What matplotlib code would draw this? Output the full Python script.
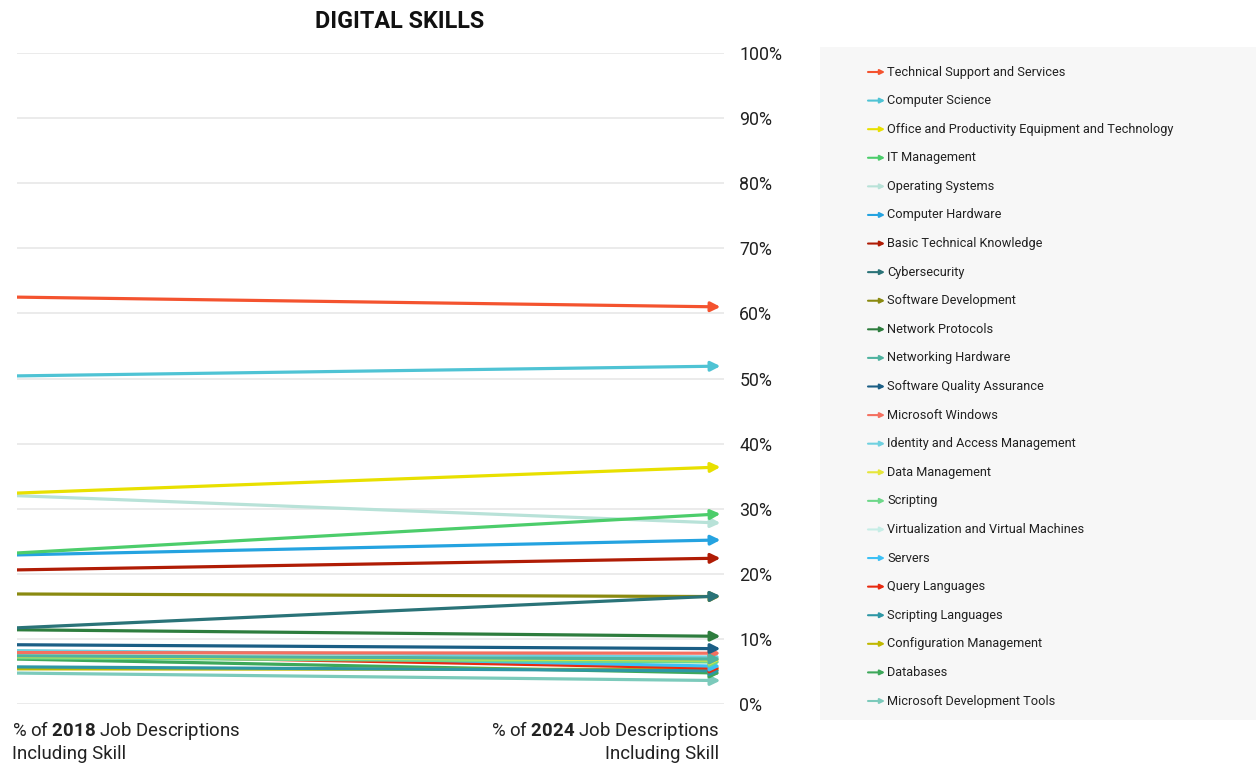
import matplotlib
matplotlib.use('Agg')
import matplotlib.pyplot as plt
from matplotlib.patches import FancyArrowPatch

plt.rcParams['font.family'] = ['Roboto', 'DejaVu Sans']
plt.rcParams['mathtext.fontset'] = 'custom'
plt.rcParams['mathtext.rm'] = 'Roboto'
plt.rcParams['mathtext.bf'] = 'Roboto:bold'

# skills, 2018 share, 2024 share (percent of job descriptions)
skills = [
    'Technical Support and Services', 'Computer Science',
    'Office and Productivity Equipment and Technology', 'IT Management',
    'Operating Systems', 'Computer Hardware', 'Basic Technical Knowledge',
    'Cybersecurity', 'Software Development', 'Network Protocols',
    'Networking Hardware', 'Software Quality Assurance', 'Microsoft Windows',
    'Identity and Access Management', 'Data Management', 'Scripting',
    'Virtualization and Virtual Machines', 'Servers', 'Query Languages',
    'Scripting Languages', 'Configuration Management', 'Databases',
    'Microsoft Development Tools',
]
pct_2018 = [62.5, 50.4, 32.4, 23.2, 32.0, 22.9, 20.6, 11.7, 16.9, 11.4,
            7.4, 9.1, 7.9, 8.2, 7.3, 7.1, 7.6, 8.0, 7.6, 5.7, 5.4, 6.9, 4.75]
pct_2024 = [61.0, 51.9, 36.4, 29.2, 27.8, 25.2, 22.4, 16.6, 16.5, 10.4,
            6.9, 8.5, 7.8, 7.2, 6.75, 6.45, 7.0, 5.8, 5.5, 5.1, 5.3, 4.75, 3.6]
colors = ['#f4532f', '#4fc3d4', '#e8e000', '#4ccd6b', '#b8e2d8', '#25a3e0',
          '#b01c05', '#2a7378', '#8a8a10', '#2e7d3e', '#4fb3a0', '#1b5e85',
          '#f47060', '#6fd1e0', '#e6e63a', '#6ed88a', '#c6ede6', '#3cc0f5',
          '#e82a10', '#2e97a5', '#c0b800', '#3da85a', '#7ccabb']

y_ticks = list(range(0, 101, 10))

fig = plt.figure(figsize=(12.56, 7.64), dpi=100)
W, H = 1256, 764

ax = fig.add_axes([17 / W, 1 - 704 / H, (724 - 17) / W, (704 - 53) / H])
ax.set_xlim(0, 1)
ax.set_ylim(0, 100)
for t in y_ticks:
    ax.axhline(t, color='#e6e6e6', lw=1.1, zorder=0)

for i in reversed(range(len(skills))):
    arr = FancyArrowPatch((0, pct_2018[i]), (0.995, pct_2024[i]),
                          arrowstyle='-|>', mutation_scale=14,
                          color=colors[i], lw=2.3, shrinkA=0, shrinkB=0,
                          zorder=3)
    ax.add_patch(arr)

for s in ax.spines.values():
    s.set_visible(False)
ax.set_xticks([])
ax.yaxis.tick_right()
ax.set_yticks(y_ticks)
ax.set_yticklabels([f'{t}%' for t in y_ticks], fontsize=12.8, color='#222222')
ax.tick_params(axis='y', length=0, pad=11)

fig.text(400 / W, 1 - 22 / H, 'DIGITAL SKILLS', ha='center', va='center',
         fontsize=16.8, fontweight='bold', color='#111111')

fig.text(12 / W, 1 - 741 / H, '% of $\\bf{2018}$ Job Descriptions\nIncluding Skill',
         ha='left', va='center', fontsize=13.4, color='#222222', linespacing=1.2)
fig.text(719 / W, 1 - 741 / H, '% of $\\bf{2024}$ Job Descriptions\nIncluding Skill',
         ha='right', va='center', fontsize=13.4, color='#222222', linespacing=1.2,
         multialignment='right')

# legend panel
n = len(skills)
step = (701 - 72) / (n - 1)
lax = fig.add_axes([820 / W, 1 - 720 / H, (1256 - 820) / W, (720 - 47) / H])
lax.set_facecolor('#f7f7f7')
lax.set_xlim(0, 436)
lax.set_ylim((673 - 25) / step, -25 / step)
for s in lax.spines.values():
    s.set_visible(False)
lax.set_xticks([])
lax.set_yticks([])
for i, name in enumerate(skills):
    lax.add_patch(FancyArrowPatch((48, i), (65, i), arrowstyle='-|>',
                                  mutation_scale=7, color=colors[i], lw=1.5,
                                  shrinkA=0, shrinkB=0))
    lax.text(67, i, name, ha='left', va='center', fontsize=9.2, color='#222222')

fig.savefig('out.png', dpi=100)
